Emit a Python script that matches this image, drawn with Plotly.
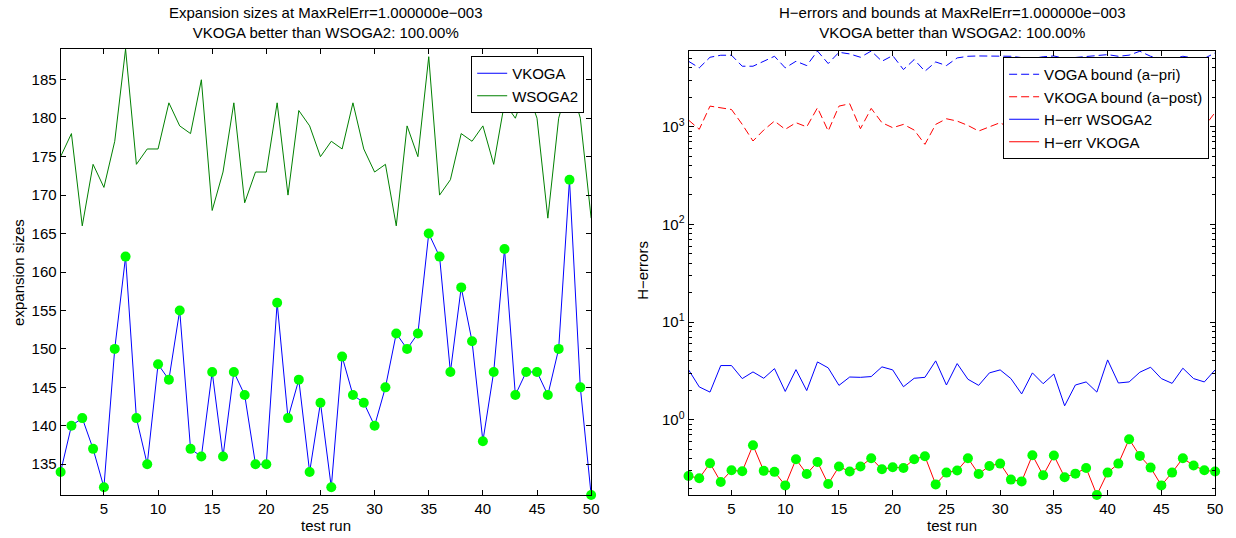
import plotly.graph_objects as go

W, H = 1236, 538

# ---------------- data ----------------
test_run = list(range(1, 51))

vkoga_size = [134, 140, 141, 137, 132, 150, 162, 141, 135, 148,
              146, 155, 137, 136, 147, 136, 147, 144, 135, 135,
              156, 141, 146, 134, 143, 132, 149, 144, 143, 140,
              145, 152, 150, 152, 165, 162, 147, 158, 151, 138,
              147, 163, 144, 147, 147, 144, 150, 172, 145, 131]

wsoga2_size = [175, 178, 166, 174, 171, 177, 189, 174, 176, 176,
               182, 179, 178, 185, 168, 173, 182, 169, 173, 173,
               182, 170, 181, 179, 175, 177, 176, 182, 176, 173,
               174, 166, 179, 175, 188, 170, 172, 178, 177, 179,
               174, 182, 180, 184, 180, 167, 180, 185, 180, 167]

voga_bound_apri = [4677, 4000, 5140, 5390, 5390, 4160, 4160, 4677, 5260, 4000,
                   4677, 4225, 5950, 4430, 5780, 5560, 5140, 5950, 4677, 5350,
                   3846, 4865, 3700, 4600, 4225, 5060, 5260, 5300, 5300, 5300,
                   5260, 5100, 5000, 5200, 5300, 5000, 5100, 5200, 5300, 5470,
                   5260, 5400, 5920, 5260, 5000, 4900, 5260, 5060, 5000, 5700]

vkoga_bound_apost = [1170, 940, 1625, 1550, 1500, 1056, 714, 925, 1142, 940,
                     1099, 996, 1563, 903, 1625, 1718, 954, 1540, 1099, 977,
                     1056, 925, 660, 1056, 1206, 1142, 1030, 903, 1000, 1100,
                     950, 1050, 700, 1000, 1200, 900, 1100, 1000, 1300, 900,
                     1100, 1000, 1200, 950, 1100, 1000, 1200, 900, 1000, 1400]

herr_wsoga2 = [3.26, 2.17, 1.92, 3.59, 3.59, 2.64, 3.09, 2.66, 3.34, 1.95,
               3.26, 1.99, 3.91, 3.40, 2.25, 2.74, 2.72, 2.77, 3.48, 3.24,
               2.18, 2.66, 2.72, 4.01, 2.27, 3.76, 2.60, 2.25, 3.02, 3.24,
               2.64, 1.84, 3.02, 2.34, 2.94, 1.39, 2.27, 2.44, 1.92, 4.10,
               2.38, 2.44, 3.07, 3.45, 2.64, 2.36, 3.37, 2.64, 2.44, 3.24]

herr_vkoga = [0.266, 0.252, 0.359, 0.231, 0.304, 0.297, 0.549, 0.300, 0.293, 0.213,
              0.394, 0.279, 0.370, 0.220, 0.332, 0.295, 0.332, 0.404, 0.311, 0.327,
              0.321, 0.394, 0.423, 0.218, 0.288, 0.302, 0.404, 0.279, 0.337, 0.356,
              0.244, 0.234, 0.434, 0.270, 0.431, 0.258, 0.281, 0.321, 0.170, 0.288,
              0.356, 0.633, 0.427, 0.324, 0.213, 0.288, 0.404, 0.340, 0.304, 0.295]

x_ticks = [5, 10, 15, 20, 25, 30, 35, 40, 45, 50]
y_ticks_left = [135, 140, 145, 150, 155, 160, 165, 170, 175, 180, 185]
y_ticks_right = [1, 10, 100, 1000]
y_ticktext_right = ["10<sup>0</sup>", "10<sup>1</sup>", "10<sup>2</sup>", "10<sup>3</sup>"]
y_minor_right = [m * 10.0 ** e for e in range(-1, 4) for m in range(2, 10)]

title_left = "Expansion sizes at MaxRelErr=1.000000e\u2212003<br>VKOGA better than WSOGA2: 100.00%"
title_right = "H\u2212errors and bounds at MaxRelErr=1.000000e\u2212003<br>VKOGA better than WSOGA2: 100.00%"

BLUE = "rgb(0,0,255)"
GREEN = "rgb(0,128,0)"
RED = "rgb(255,0,0)"
LIME = "rgb(0,255,0)"
FONT = "Liberation Sans, Arial, Helvetica, sans-serif"
FS = 15

fig = go.Figure()

# ---------------- left subplot ----------------
fig.add_trace(go.Scatter(x=test_run, y=vkoga_size, mode="lines", name="VKOGA",
                         line=dict(color=BLUE, width=1), xaxis="x", yaxis="y", legend="legend"))
fig.add_trace(go.Scatter(x=test_run, y=wsoga2_size, mode="lines", name="WSOGA2",
                         line=dict(color=GREEN, width=1), xaxis="x", yaxis="y", legend="legend"))
fig.add_trace(go.Scatter(x=test_run, y=vkoga_size, mode="markers", showlegend=False,
                         marker=dict(color=LIME, size=10, line=dict(width=0)),
                         cliponaxis=False, xaxis="x", yaxis="y"))

# ---------------- right subplot ----------------
fig.add_trace(go.Scatter(x=test_run, y=voga_bound_apri, mode="lines", name="VOGA bound (a\u2212pri)",
                         line=dict(color=BLUE, width=1, dash="8px,4px"), xaxis="x2", yaxis="y2", legend="legend2"))
fig.add_trace(go.Scatter(x=test_run, y=vkoga_bound_apost, mode="lines", name="VKOGA bound (a\u2212post)",
                         line=dict(color=RED, width=1, dash="8px,4px"), xaxis="x2", yaxis="y2", legend="legend2"))
fig.add_trace(go.Scatter(x=test_run, y=herr_wsoga2, mode="lines", name="H\u2212err WSOGA2",
                         line=dict(color=BLUE, width=1), xaxis="x2", yaxis="y2", legend="legend2"))
fig.add_trace(go.Scatter(x=test_run, y=herr_vkoga, mode="lines", name="H\u2212err VKOGA",
                         line=dict(color=RED, width=1), xaxis="x2", yaxis="y2", legend="legend2"))
fig.add_trace(go.Scatter(x=test_run, y=herr_vkoga, mode="markers", showlegend=False,
                         marker=dict(color=LIME, size=10, line=dict(width=0)),
                         cliponaxis=False, xaxis="x2", yaxis="y2"))

axis_common = dict(showline=True, linecolor="black", linewidth=1, mirror="allticks",
                   ticks="inside", ticklen=5, tickcolor="black", showgrid=False,
                   zeroline=False, tickfont=dict(size=FS, color="black", family=FONT))

fig.update_layout(
    width=W, height=H,
    margin=dict(l=0, r=0, t=0, b=0),
    paper_bgcolor="white", plot_bgcolor="white",
    font=dict(family=FONT, color="black", size=FS),
    xaxis=dict(domain=[61 / W, 595 / W], range=[1, 50], tickvals=x_ticks, anchor="y", **axis_common),
    yaxis=dict(domain=[43 / H, 489 / H], range=[131, 189], tickvals=y_ticks_left, anchor="x", **axis_common),
    xaxis2=dict(domain=[693 / W, 1223 / W], range=[1, 50], tickvals=x_ticks, anchor="y2", **axis_common),
    yaxis2=dict(domain=[43 / H, 487 / H], type="log", range=[-0.77, 3.775],
                tickvals=y_ticks_right, ticktext=y_ticktext_right, anchor="x2",
                minor=dict(ticks="inside", ticklen=3, tickcolor="black", tickvals=y_minor_right,
                           showgrid=False),
                **axis_common),
    legend=dict(x=588 / W, y=1 - 56 / H, xanchor="right", yanchor="top",
                bgcolor="white", bordercolor="black", borderwidth=1,
                font=dict(size=FS, family=FONT, color="black"),
                tracegroupgap=0),
    legend2=dict(x=1217 / W, y=1 - 57 / H, xanchor="right", yanchor="top",
                 bgcolor="white", bordercolor="black", borderwidth=1,
                 font=dict(size=FS, family=FONT, color="black"),
                 tracegroupgap=0),
    showlegend=True,
    annotations=[
        dict(text=title_left, x=328 / W, y=1 - 23 / H, xref="paper", yref="paper",
             showarrow=False, xanchor="center", yanchor="middle", font=dict(size=FS)),
        dict(text=title_right, x=958 / W, y=1 - 23 / H, xref="paper", yref="paper",
             showarrow=False, xanchor="center", yanchor="middle", font=dict(size=FS)),
        dict(text="expansion sizes", x=18 / W, y=1 - 272 / H, xref="paper", yref="paper",
             showarrow=False, textangle=-90, xanchor="center", yanchor="middle", font=dict(size=FS)),
        dict(text="H\u2212errors", x=646 / W, y=1 - 270 / H, xref="paper", yref="paper",
             showarrow=False, textangle=-90, xanchor="center", yanchor="middle", font=dict(size=FS)),
        dict(text="test run", x=328 / W, y=1 - 525 / H, xref="paper", yref="paper",
             showarrow=False, xanchor="center", yanchor="middle", font=dict(size=FS)),
        dict(text="test run", x=958 / W, y=1 - 525 / H, xref="paper", yref="paper",
             showarrow=False, xanchor="center", yanchor="middle", font=dict(size=FS)),
    ],
)

fig.write_html("out.html", config={"displayModeBar": False},
               post_script="document.body.style.margin='0px';")
